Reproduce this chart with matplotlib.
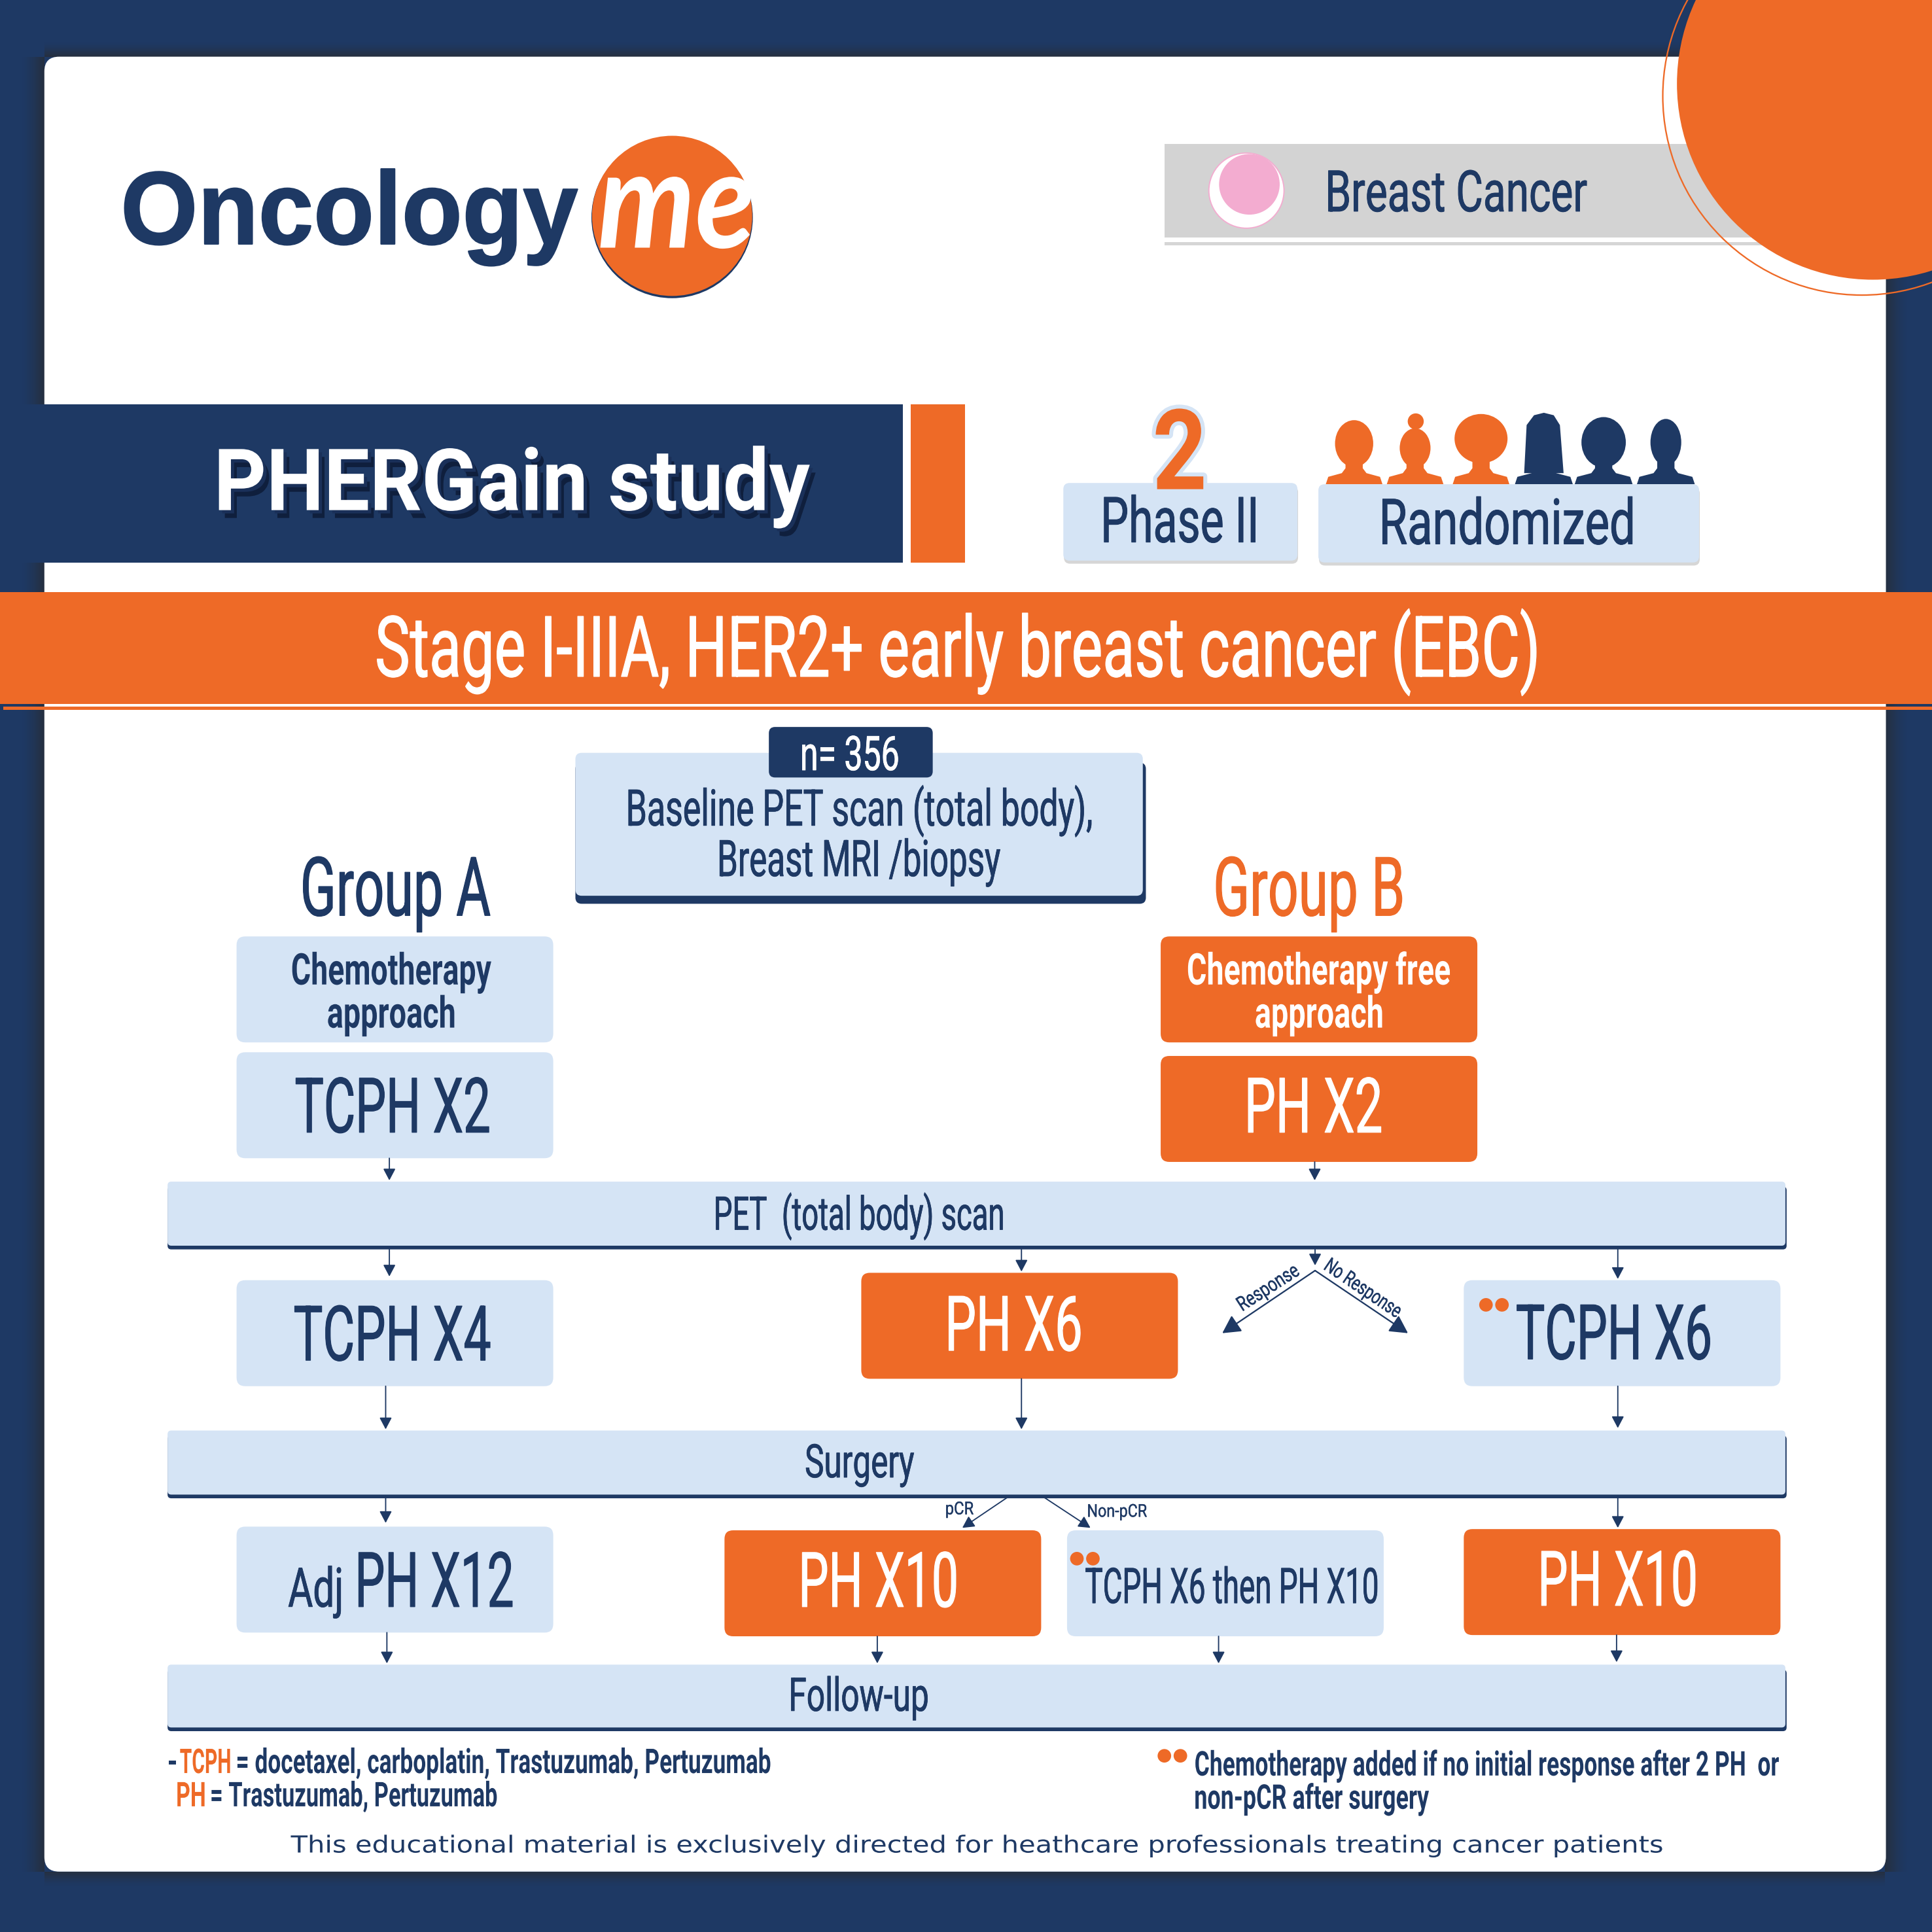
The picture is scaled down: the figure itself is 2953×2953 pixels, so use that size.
import matplotlib
matplotlib.use("Agg")
import matplotlib.pyplot as plt
from matplotlib.colors import to_rgba
from matplotlib.patches import FancyBboxPatch, Rectangle, Circle, Ellipse, Polygon
from matplotlib.patheffects import AbstractPathEffect
from matplotlib.text import Text
from matplotlib.textpath import TextPath
from matplotlib.font_manager import FontProperties
from matplotlib.transforms import Affine2D, Bbox

NAVY = "#1e3964"; ORANGE = "#ee6a27"; LIGHT = "#d5e4f5"; GREY = "#d3d3d3"; PINK = "#f3acd0"
SHADE = "#d6d6d6"
PT = 300 / 72 / (2953 / 1568)   # canvas units per point

title = "PHERGain study"
banner = "Stage I-IIIA, HER2+ early breast cancer (EBC)"
disease = "Breast Cancer"
baseline_lines = ["Baseline PET scan (total body),", "Breast MRI /biopsy"]
group_names = ["Group A", "Group B"]
approach_a = ["Chemotherapy", "approach"]
approach_b = ["Chemotherapy free", "approach"]
regimens = ["TCPH X2", "PH X2", "TCPH X4", "PH X6", "TCPH X6", "PH X12", "PH X10", "TCPH X6 then PH X10"]
wide_bars = ["PET  (total body) scan", "Surgery", "Follow-up"]
notes_left = ["= docetaxel, carboplatin, Trastuzumab, Pertuzumab", "= Trastuzumab, Pertuzumab"]
notes_right = ["Chemotherapy added if no initial response after 2 PH  or", "non-pCR after surgery"]
disclaimer = "This educational material is exclusively directed for heathcare professionals treating cancer patients"

fig = plt.figure(figsize=(2953 / 300, 2953 / 300), dpi=300, facecolor=NAVY)
ax = fig.add_axes([0, 0, 1, 1]); ax.set_xlim(0, 1568); ax.set_ylim(1568, 0); ax.axis("off")


class Condense(AbstractPathEffect):
    """Squeezes or widens a text's glyphs horizontally so it fits a given width."""
    def __init__(self, sx, stroke=None, shadows=()):
        super().__init__()
        self.sx, self.stroke, self.shadows = sx, stroke, shadows
    def draw_path(self, renderer, gc, tpath, affine, rgbFace=None):
        x0 = tpath.get_extents().x0
        t = Affine2D().translate(-x0, 0).scale(self.sx, 1) + affine
        for dx, dy, col in self.shadows:
            renderer.draw_path(gc, tpath, t + Affine2D().translate(dx, -dy), to_rgba(col))
        if self.stroke:
            g = renderer.new_gc(); g.copy_properties(gc)
            g.set_linewidth(self.stroke[0])
            g.set_foreground(self.stroke[1]); g.set_joinstyle("round")
            renderer.draw_path(g, tpath, t, to_rgba(self.stroke[1]))
            g.restore()
        renderer.draw_path(gc, tpath, t, rgbFace)


class FitText(Text):
    sx = 1.0
    def _get_layout(self, renderer):
        bb, info, descent = super()._get_layout(renderer)
        return Bbox.from_bounds(bb.x0, bb.y0, bb.width * self.sx, bb.height), info, descent


def txt(x, base, s, size, W, c=NAVY, fam="Roboto", w="normal", st="normal", rot=0, z=6, stroke="auto", shadows=()):
    if W > 40 and rot == 0 and fam != "DejaVu Sans":
        x, W = x + 1.2, W - 2.5
    fp = FontProperties(family=fam, weight=w, style=st)
    nat = TextPath((0, 0), s, size=size, prop=fp).get_extents().width * PT
    sx = W / nat
    if stroke == "auto":
        stroke = (size * 0.010, c) if (w == "normal" and fam == "Roboto") else None
    t = FitText(x, base, s, fontsize=size, color=c, family=fam, fontweight=w, fontstyle=st,
                ha="left", va="baseline", rotation=rot, rotation_mode="anchor", zorder=z)
    t.sx = sx
    t.set_path_effects([Condense(sx, stroke, shadows)])
    ax.add_artist(t)
    return t


def box(x0, y0, x1, y1, c, r=7, z=2):
    ax.add_patch(FancyBboxPatch((x0 + r, y0 + r), x1 - x0 - 2*r, y1 - y0 - 2*r,
                                boxstyle=f"round,pad={r},rounding_size={r}", fc=c, ec="none", lw=0, zorder=z))
def rect(x0, y0, x1, y1, c, z=2, a=1):
    ax.add_patch(Rectangle((x0, y0), x1 - x0, y1 - y0, fc=c, ec="none", lw=0, alpha=a, zorder=z))
def dot(x, y, r=5.5, c=ORANGE, z=6):
    ax.add_patch(Circle((x, y), r, fc=c, ec="none", zorder=z))
def arrow(x0, y0, x1, y1, big=False):
    style = "-|>,head_length=5.6,head_width=3.0" if big else "-|>,head_length=3.6,head_width=1.9"
    ax.annotate("", xy=(x1, y1), xytext=(x0, y0), zorder=7,
                arrowprops=dict(arrowstyle=style, color=NAVY, lw=0.55 if big else 0.45, shrinkA=0, shrinkB=0, mutation_scale=1))

# frame shadow around the card
N = 18
for i in range(N):
    a = 0.62 * ((i + 1) / N) ** 1.5
    rect(18 + i, 46, 19 + i, 1519, "#2a2a2a", z=0.5, a=a)
    rect(1548 - i - 1, 46, 1548 - i, 1519, "#2a2a2a", z=0.5, a=a)
    rect(36, 34 + i * 12 / N, 1530, 34 + (i + 1) * 12 / N, "#2a2a2a", z=0.5, a=a)
    rect(36, 1531 - (i + 1) * 12 / N, 1530, 1531 - i * 12 / N, "#2a2a2a", z=0.5, a=a)
box(36, 46, 1530.6, 1519, "white", r=12, z=1)

# disease band and corner circle
rect(945, 117, 1500, 192.5, GREY)
rect(945, 196.5, 1500, 199, SHADE)
ax.add_patch(Circle((1011.6, 154.7), 30.5, fc="white", ec=PINK, lw=0.45, zorder=3))
dot(1014, 149.6, 24.6, PINK, 3)
txt(1077, 171.5, disease, 21, 212)
ax.add_patch(Circle((1520, 68), 159, fc=ORANGE, ec="none", zorder=4))
ax.add_patch(Circle((1511, 78), 161.5, fc="none", ec=ORANGE, lw=0.55, zorder=4))

# logo
txt(100, 198, "Oncology", 38, 370, fam="Liberation Sans", w="bold", stroke=(0.5, NAVY))
dot(545.5, 176.5, 65.5, NAVY, 3)
dot(545.5, 175.2, 65, ORANGE, 3)
txt(486, 201, "me", 50, 125, c="white", fam="Lato", w="bold", st="italic", stroke=None)

# title band
rect(0, 328, 733, 456.5, NAVY, z=2)
rect(739, 328, 783, 456.5, ORANGE)
txt(176.5, 414, title, 31.5, 482, c="white", w="bold",
    shadows=[(9, 12, "#0f1f3d"), (5, 5, "#1a3059")])

# phase and randomized
box(863.5, 394.5, 1053.5, 457.5, SHADE, r=5)
box(863, 392, 1053, 455, LIGHT, r=5, z=3)
box(1070.5, 395.5, 1379.5, 459, SHADE, r=5)
box(1070, 393, 1379, 456.5, LIGHT, r=5, z=3)
txt(938, 397, "2", 41, 38.6, c=ORANGE, w="bold", z=6, stroke=(2.9, LIGHT))
txt(895, 440, "Phase II", 23.2, 125)
txt(1121, 441.5, "Randomized", 23.2, 205)

# silhouettes
people_x = [1099, 1148.5, 1202, 1253, 1301.5, 1352]
people_w = [31, 25, 43, 34, 36, 25]
people_h = [38, 32, 40, 48, 41, 38]
people_y = [360, 363.6, 356, 359, 359, 359]
people_c = [ORANGE, ORANGE, ORANGE, NAVY, NAVY, NAVY]
shoulder = [23, 23, 23, 23.5, 23.5, 23.5]
for x, w, h, y, c, s in zip(people_x, people_w, people_h, people_y, people_c, shoulder):
    if c == NAVY and w == 34:
        ax.add_patch(Polygon([(x-16, 384), (x-14, 345), (x-8, 337), (x, 335), (x+8, 337), (x+13, 345), (x+16, 384)], fc=c, ec="none", zorder=2.5))
    else:
        ax.add_patch(Ellipse((x, y), w, h, fc=c, ec="none", zorder=2.5))
    ax.add_patch(Polygon([(x-s, 393), (x-s+2, 387), (x-10, 384), (x-7, 380), (x-7, 372), (x+7, 372), (x+7, 380), (x+10, 384), (x+s-2, 387), (x+s, 393)], fc=c, ec="none", zorder=2.5))
dot(1149, 342, 6.5, ORANGE, 2.5)

# orange banner
rect(0, 480.6, 1568, 571.6, ORANGE, z=3)
rect(2.7, 573.6, 1568, 576, ORANGE, z=3)
txt(305, 549, banner, 31, 943, c="white")

# baseline
box(467, 619, 930, 733.5, NAVY, r=5)
box(467, 611, 927.5, 727, LIGHT, r=5, z=3)
box(624, 590, 757, 631, NAVY, r=5, z=4)
txt(650, 625, "n= 356", 17.5, 80, c="white")
txt(509, 670, baseline_lines[0], 18.5, 378)
txt(583, 711, baseline_lines[1], 18.5, 230)

txt(245, 743, group_names[0], 30, 154)
txt(986, 743, group_names[1], 30, 153, c=ORANGE)

# upper boxes
box(192, 760, 449, 846, LIGHT)
txt(236, 799, approach_a[0], 16, 164, w="bold"); txt(265, 834, approach_a[1], 16, 105, w="bold")
box(192, 854, 449, 940, LIGHT)
txt(239, 919, regimens[0], 28, 159)
box(942, 760, 1199, 846, ORANGE)
txt(963, 799, approach_b[0], 16, 215, c="white", w="bold"); txt(1018, 834, approach_b[1], 16, 105, c="white", w="bold")
box(942, 857, 1199, 943, ORANGE)
txt(1012, 919, regimens[1], 28, 110, c="white")

# wide bars
bar_top = [959, 1161, 1351]
bar_bot = [1014, 1216, 1405]
bar_x = [580, 653, 641]
bar_w = [235, 90, 113]
bar_base = [998, 1199, 1388.5]
for y0, y1, s, x, w, b in zip(bar_top, bar_bot, wide_bars, bar_x, bar_w, bar_base):
    box(136, y0 + 4, 1450, y1, NAVY, r=3)
    box(136, y0, 1449, y1 - 3, LIGHT, r=3, z=3)
    txt(x, b, s, 17, w)

# middle row
box(192, 1039, 449, 1125, LIGHT); txt(238, 1104, regimens[2], 28, 161)
box(699, 1033, 956, 1119, ORANGE); txt(769, 1096, regimens[3], 28, 109, c="white")
box(1188, 1039, 1445, 1125, LIGHT); txt(1230, 1103, regimens[4], 28, 159)
dot(1206, 1059); dot(1219, 1059)

# bottom row
box(192, 1239, 449, 1325, LIGHT)
txt(233, 1304, "Adj", 20, 45); txt(290, 1304, regimens[5], 28, 127)
box(588, 1242, 845, 1328, ORANGE); txt(650, 1304, regimens[6], 28, 127, c="white")
box(866, 1242, 1123, 1328, LIGHT); txt(880, 1301, regimens[7], 18, 239)
dot(874, 1265); dot(887, 1265)
box(1188, 1241, 1445, 1327, ORANGE); txt(1250, 1303, regimens[6], 28, 127, c="white")

# arrows
for x, y0, y1 in [(316, 940, 958), (1067, 943, 958), (316, 1014, 1036), (829, 1014, 1032), (1313, 1014, 1038),
                  (313, 1125, 1160), (829, 1119, 1160), (1313, 1125, 1159), (313, 1216, 1236), (1313, 1216, 1240),
                  (314, 1325, 1350), (712, 1328, 1350), (989, 1328, 1350), (1312, 1327, 1349)]:
    arrow(x, y0, x, y1)
arrow(1067.3, 1014, 1067.3, 1027)
arrow(1067.3, 1031.2, 992, 1082, big=True)
arrow(1067.3, 1031.2, 1142.7, 1082, big=True)
txt(1009, 1064, "Response", 7.5, 55, rot=32.7)
txt(1074.3, 1030.2, "No Response", 7.5, 70.6, rot=-34)
arrow(818, 1215, 781, 1240)
arrow(847, 1215, 885, 1240)
txt(768, 1229, "pCR", 6.5, 22); txt(882, 1231, "Non-pCR", 6.5, 50)

# footnotes
txt(137, 1439, "-", 12.5, 6, w="bold")
txt(145, 1439, "TCPH", 12.5, 43, c=ORANGE, w="bold")
txt(191.5, 1439, notes_left[0], 12.5, 435, w="bold")
txt(144, 1466, "PH", 12.5, 22, c=ORANGE, w="bold")
txt(170.5, 1466, notes_left[1], 12.5, 234, w="bold")
dot(945, 1425); dot(958, 1425)
txt(969, 1441, notes_right[0], 12.5, 476, w="bold")
txt(969, 1468, notes_right[1], 12.5, 192, w="bold")
txt(236, 1503.5, disclaimer, 8.6, 1113, fam="DejaVu Sans")

fig.savefig("out.png", dpi=300, facecolor=NAVY)
